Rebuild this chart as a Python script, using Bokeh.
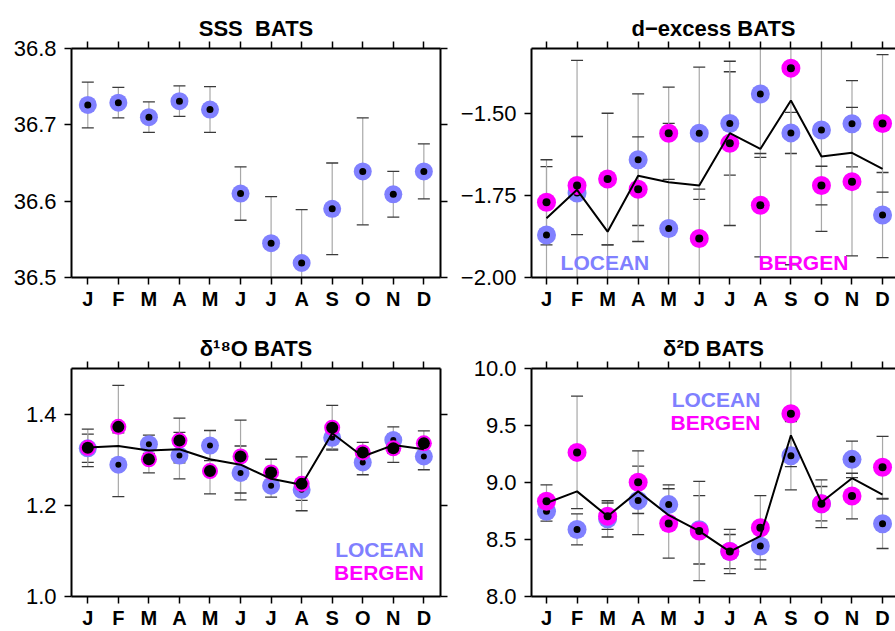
import numpy as np
from bokeh.plotting import figure
from bokeh.layouts import column, row
from bokeh.models import Range1d, FixedTicker, LinearAxis, Label
from bokeh.embed import file_html
from bokeh.resources import INLINE

# ---------------- data ----------------
months = ["J", "F", "M", "A", "M", "J", "J", "A", "S", "O", "N", "D"]
month_num = list(range(1, 13))

# SSS BATS (LOCEAN only)
sss_locean = [36.726, 36.729, 36.710, 36.731, 36.720, 36.610, 36.545, 36.519, 36.590, 36.639, 36.609, 36.639]
sss_locean_err = [0.030, 0.020, 0.020, 0.020, 0.030, 0.035, 0.061, 0.070, 0.060, 0.070, 0.030, 0.036]
sss_ticks = [36.5, 36.6, 36.7, 36.8]
sss_labels = ["36.5", "36.6", "36.7", "36.8"]

# d-excess BATS
dex_locean = [-1.870, -1.742, -2.020, -1.640, -1.850, -1.559, -1.529, -1.439, -1.558, -1.549, -1.530, -1.809]
dex_locean_err = [0.209, 0.406, 0.120, 0.201, 0.321, 0.202, 0.158, 0.194, 0.063, 0.310, 0.132, 0.130]
dex_bergen = [-1.770, -1.719, -1.699, -1.730, -1.559, -1.881, -1.590, -1.779, -1.360, -1.719, -1.707, -1.529]
dex_bergen_err = [0.130, 0.150, 0.201, 0.160, 0.141, 0.151, 0.251, 0.158, 0.601, 0.059, 0.227, 0.210]
dex_mean = [-1.819, -1.732, -1.860, -1.689, -1.709, -1.719, -1.559, -1.607, -1.459, -1.630, -1.619, -1.668]
dex_ticks = [-2.0, -1.75, -1.5]
dex_labels = ["\u22122.00", "\u22121.75", "\u22121.50"]

# d18O BATS
o18_locean = [1.325, 1.289, 1.334, 1.309, 1.331, 1.271, 1.243, 1.234, 1.348, 1.294, 1.343, 1.307]
o18_locean_err = [0.031, 0.070, 0.020, 0.051, 0.033, 0.059, 0.025, 0.023, 0.025, 0.027, 0.029, 0.029]
o18_bergen = [1.326, 1.372, 1.301, 1.342, 1.275, 1.307, 1.272, 1.247, 1.370, 1.316, 1.325, 1.336]
o18_bergen_err = [0.041, 0.091, 0.030, 0.049, 0.050, 0.080, 0.029, 0.059, 0.049, 0.022, 0.031, 0.027]
o18_mean = [1.327, 1.330, 1.320, 1.323, 1.301, 1.289, 1.258, 1.245, 1.358, 1.307, 1.332, 1.323]
o18_ticks = [1.0, 1.2, 1.4]
o18_labels = ["1.0", "1.2", "1.4"]

# d2D BATS
d2_locean = [8.748, 8.588, 8.681, 8.843, 8.806, 8.585, 8.394, 8.443, 9.235, 8.814, 9.203, 8.638]
d2_locean_err = [0.087, 0.136, 0.159, 0.301, 0.174, 0.300, 0.150, 0.203, 0.299, 0.151, 0.160, 0.217]
d2_bergen = [8.835, 9.264, 8.704, 9.003, 8.641, 8.574, 8.394, 8.603, 9.603, 8.814, 8.881, 9.133]
d2_bergen_err = [0.145, 0.493, 0.116, 0.275, 0.304, 0.435, 0.194, 0.281, 0.464, 0.209, 0.200, 0.272]
d2_mean = [8.820, 8.922, 8.704, 8.922, 8.713, 8.574, 8.394, 8.530, 9.414, 8.826, 9.038, 8.893]
d2_ticks = [8.0, 8.5, 9.0, 9.5, 10.0]
d2_labels = ["8.0", "8.5", "9.0", "9.5", "10.0"]

# ---------------- style ----------------
FONT = "Liberation Sans"
BLUE = "#8080ff"
MAG = "#ff00ff"
STEM = "#a8a8a8"
CAP = "#3a3a3a"


def style_axis(ax, label_size, bold, standoff):
    ax.axis_line_width = 2
    ax.axis_line_color = "black"
    ax.major_tick_line_width = 1.5
    ax.major_tick_line_color = "black"
    ax.major_tick_in = 0
    ax.major_tick_out = 7
    ax.minor_tick_line_color = None
    ax.major_label_text_font = FONT
    ax.major_label_text_color = "black"
    ax.major_label_text_font_style = "bold" if bold else "normal"
    ax.major_label_standoff = standoff
    ax.major_label_text_font_size = label_size


def tick_only_axis(ticks):
    # ticks drawn as "minor" ticks so that no tick labels exist on this side
    ax = LinearAxis(ticker=FixedTicker(ticks=[], minor_ticks=ticks))
    ax.axis_line_width = 2
    ax.axis_line_color = "black"
    ax.major_tick_line_color = None
    ax.minor_tick_line_color = "black"
    ax.minor_tick_line_width = 1.5
    ax.minor_tick_in = 0
    ax.minor_tick_out = 7
    ax.major_label_standoff = 0
    return ax


def make_fig(width, height, xr, yr, yticks, ylabels, title, bl, br, bt, bb, right_axis):
    p = figure(width=width, height=height, x_range=Range1d(*xr), y_range=Range1d(*yr),
               output_backend="svg", toolbar_location=None,
               min_border_left=bl, min_border_right=br, min_border_top=bt, min_border_bottom=bb,
               title=title)
    p.outline_line_color = None
    p.xgrid.visible = False
    p.ygrid.visible = False
    p.background_fill_color = "white"
    p.border_fill_color = "white"
    p.title.align = "center"
    p.title.text_font = FONT
    p.title.text_font_size = "22px"
    p.title.text_font_style = "bold"
    p.title.text_color = "black"
    p.title.standoff = 2

    xover = {m: lab for m, lab in zip(month_num, months)}
    yover = {t: lab for t, lab in zip(yticks, ylabels)}

    xa = p.xaxis[0]
    xa.ticker = FixedTicker(ticks=month_num)
    xa.major_label_overrides = xover
    style_axis(xa, "20px", True, 3)

    ya = p.yaxis[0]
    ya.ticker = FixedTicker(ticks=yticks)
    ya.major_label_overrides = yover
    style_axis(ya, "22px", False, 8)

    p.add_layout(tick_only_axis(month_num), "above")
    if right_axis:
        p.add_layout(tick_only_axis(yticks), "right")
    return p


def errbars(p, y, e):
    lo = [v - d for v, d in zip(y, e)]
    hi = [v + d for v, d in zip(y, e)]
    p.segment(x0=month_num, y0=lo, x1=month_num, y1=hi, line_color=STEM, line_width=1.2)
    p.scatter(x=month_num + month_num, y=lo + hi, marker="dash", size=12,
              line_color=CAP, line_width=1.3)


def points(p, y, yr, color, size, dot):
    xs = [m for m, v in zip(month_num, y) if yr[0] <= v <= yr[1]]
    ys = [v for v in y if yr[0] <= v <= yr[1]]
    p.scatter(x=xs, y=ys, size=size, fill_color=color, line_color=None)
    p.scatter(x=xs, y=ys, size=dot, fill_color="black", line_color=None)


def legend(p, x, y, text, color, align):
    p.add_layout(Label(x=x, y=y, text=text, text_color=color, text_font=FONT,
                       text_font_size="21px", text_font_style="bold", text_align=align,
                       text_baseline="alphabetic"))


XL = (0.4665, 12.545)
XR = (0.509, 12.424)

# ---- SSS ----
yr1 = (36.5, 36.8)
p1 = make_fig(455, 313, XL, yr1, sss_ticks, sss_labels, "SSS\u00a0\u00a0BATS", 71, 15, 48, 36, True)
errbars(p1, sss_locean, sss_locean_err)
points(p1, sss_locean, yr1, BLUE, 18, 7)

# ---- d-excess ----
yr2 = (-2.0, -1.30)
p2 = make_fig(440, 313, XR, yr2, dex_ticks, dex_labels, "d\u2212excess BATS", 76, 0, 48, 36, False)
errbars(p2, dex_locean, dex_locean_err)
errbars(p2, dex_bergen, dex_bergen_err)
points(p2, dex_locean, yr2, BLUE, 19, 7)
points(p2, dex_bergen, yr2, MAG, 19, 8)
p2.line(month_num, dex_mean, line_color="black", line_width=2)
legend(p2, 1.46, -1.954, "LOCEAN", BLUE, "left")
legend(p2, 7.94, -1.954, "BERGEN", MAG, "left")

# ---- d18O ----
yr3 = (1.0, 1.5)
p3 = make_fig(455, 318, XL, yr3, o18_ticks, o18_labels, "\u03b4\u00b9\u2078O BATS", 71, 15, 55, 33, True)
errbars(p3, o18_locean, o18_locean_err)
errbars(p3, o18_bergen, o18_bergen_err)
points(p3, o18_locean, yr3, BLUE, 18, 6)
points(p3, o18_bergen, yr3, MAG, 16, 12)
p3.line(month_num, o18_mean, line_color="black", line_width=2)
legend(p3, 12.0, 1.102, "LOCEAN", BLUE, "right")
legend(p3, 12.0, 1.052, "BERGEN", MAG, "right")

# ---- d2D ----
yr4 = (8.0, 10.0)
p4 = make_fig(440, 318, XR, yr4, d2_ticks, d2_labels, "\u03b4\u00b2D BATS", 76, 0, 55, 33, False)
errbars(p4, d2_locean, d2_locean_err)
errbars(p4, d2_bergen, d2_bergen_err)
points(p4, d2_locean, yr4, BLUE, 19, 7)
points(p4, d2_bergen, yr4, MAG, 19, 8)
p4.line(month_num, d2_mean, line_color="black", line_width=2)
legend(p4, 8.0, 9.728, "LOCEAN", BLUE, "right")
legend(p4, 8.0, 9.530, "BERGEN", MAG, "right")

layout = column(row(p1, p2), row(p3, p4))
open("out.html", "w").write(file_html(layout, INLINE))
